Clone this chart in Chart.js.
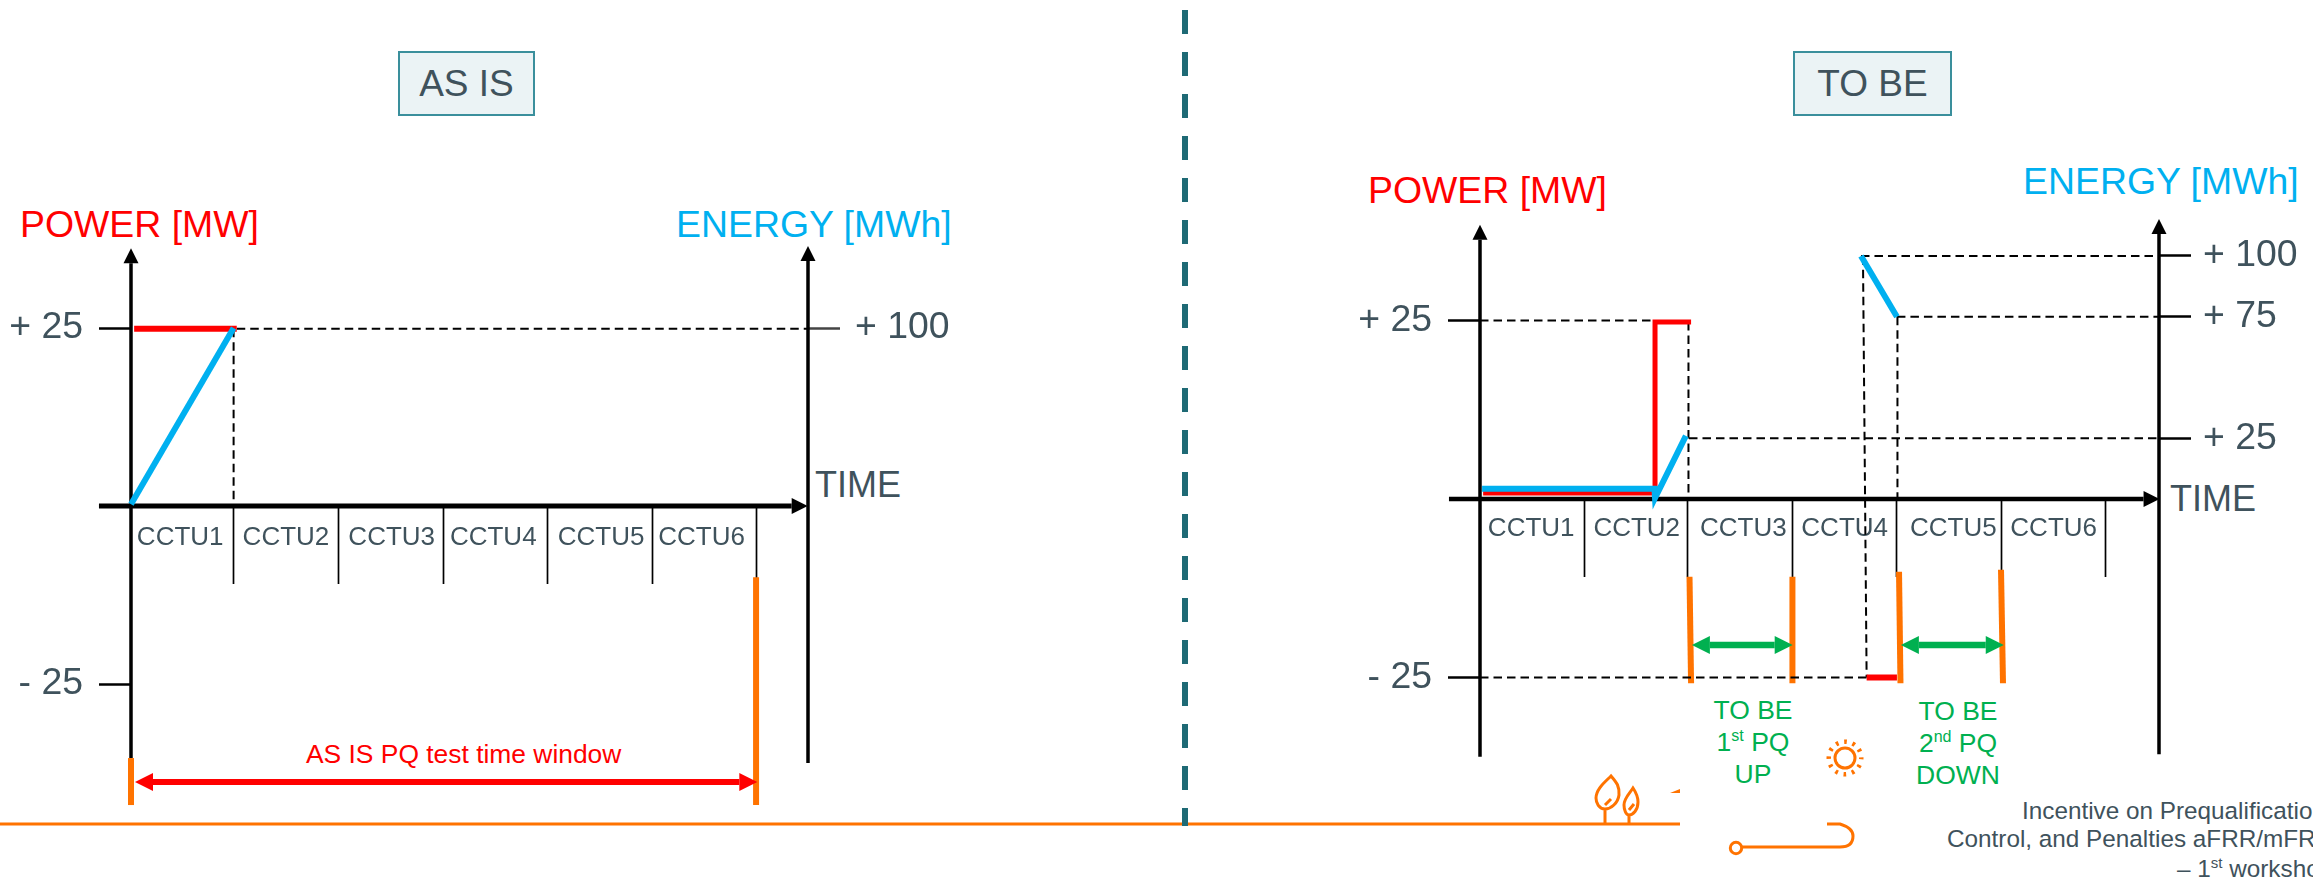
<!DOCTYPE html>
<html>
<head>
<meta charset="utf-8">
<title>AS IS / TO BE PQ test</title>
<script src="https://cdn.jsdelivr.net/npm/chart.js@4"></script>
<style>
    body { margin: 0; width: 2313px; height: 878px; overflow: hidden; position: relative; background: #fff; font-family: "Liberation Sans", Arial, sans-serif; color: #3f525c; }
    canvas { position: absolute; top: 0; }
    .lbl { position: absolute; white-space: nowrap; line-height: 1; font-size: 37.4px; transform: translateY(-50%); }
    .box { position: absolute; top: 51px; height: 61px; line-height: 61px; text-align: center; font-size: 37px; background: #ebf3f5; border: 2px solid #3a8f9c; }
    .red { color: #ff0000; }
    .blue { color: #00b0f0; }
    .pq { position: absolute; top: 694px; font-size: 26.5px; line-height: 32px; text-align: center; color: #00b050; transform: translateX(-50%); white-space: nowrap; }
    .pq sup { font-size: 16px; line-height: 0; }
    .foot { position: absolute; font-size: 24.3px; white-space: nowrap; line-height: 1; transform: translateY(-50%); }
    .foot sup { font-size: 15px; line-height: 0; }
    svg { position: absolute; left: 0; top: 0; }
</style>
</head>
<body>
<svg width="2313" height="878" fill="none" stroke="#ff7300" stroke-width="3">
    <line x1="0" y1="824" x2="1680" y2="824"/>
    <line x1="1185" y1="10" x2="1185" y2="826" stroke="#1e6a75" stroke-width="6" stroke-dasharray="24 18"/>
    <path d="M1605 824V809M1605 805l6-6M1611 776C1617 783 1619.5 786 1619 795C1618 803 1611 809 1605 809C1599 809 1596 803 1596 798C1596 789 1605 782 1611 776Z"/>
    <path d="M1629 824V815M1629 810l5-6M1633 788C1637 794 1638 798 1638 802C1638 810 1633 815 1629 815C1626 815 1624 810 1624 805C1624 798 1630 793 1633 788Z"/>
    <path d="M1670 793L1680 789V793Z" fill="#ff7300" stroke="none"/>
    <path d="M1827 824H1840Q1853 828 1853 836Q1853 847 1840 847H1742"/>
    <circle cx="1736" cy="848" r="5.7"/>
    <circle cx="1845" cy="758" r="10"/>
    <circle cx="1845" cy="758" r="16.25" stroke-width="4.5" stroke-dasharray="2.7 5.81" stroke-dashoffset="1.35"/>
</svg>

<div class="box" style="left:398px;width:133px">AS IS</div>
<div class="box" style="left:1793px;width:155px">TO BE</div>

<div class="lbl red" style="left:20px;top:225px">POWER [MW]</div>
<div class="lbl blue" style="left:676px;top:225px">ENERGY [MWh]</div>
<div class="lbl" style="left:815px;top:485px;font-size:36px">TIME</div>
<div class="lbl red" style="left:306px;top:754px;font-size:26.4px">AS IS PQ test time window</div>

<div class="lbl red" style="left:1368px;top:191px">POWER [MW]</div>
<div class="lbl blue" style="left:2023px;top:182px">ENERGY [MWh]</div>
<div class="lbl" style="left:2170px;top:499px;font-size:36px">TIME</div>
<div class="pq" style="left:1753px">TO BE<br>1<sup>st</sup> PQ<br>UP</div>
<div class="pq" style="left:1958px;top:695px">TO BE<br>2<sup>nd</sup> PQ<br>DOWN</div>
<div class="foot" style="left:2022px;top:811px">Incentive on Prequalification</div>
<div class="foot" style="left:1947px;top:839px">Control, and Penalties aFRR/mFRR</div>
<div class="foot" style="left:2177px;top:869px">– 1<sup>st</sup> workshop</div>

<canvas id="asIsChart" width="1184" height="878" style="left:0"></canvas>
<canvas id="toBeChart" width="1123" height="878" style="left:1190px"></canvas>

<script>
const RED = '#ff0000';
const BLUE = '#00b0f0';
const ORANGE = '#ff7300';
const GREEN = '#00b050';

const cctuLabels = ['CCTU1', 'CCTU2', 'CCTU3', 'CCTU4', 'CCTU5', 'CCTU6'];

// AS IS (time in CCTU periods, power in MW, energy in MWh)
const asIsEdges = [0.98, 1.98, 2.98, 3.98, 4.98, 5.97];
const asIsLabelCenters = [0.47, 1.48, 2.49, 3.46, 4.49, 5.45];
const asIsPowerTicks = [-25, 25];
const asIsEnergyTicks = [100];
const asIsPowerTime = [0.03, 1.01];
const asIsPowerValues = [24.9, 24.9];
const asIsEnergyTime = [0, 0.98];
const asIsEnergyValues = [1, 100];

// TO BE
const toBeEdges = [1, 1.99, 2.99, 3.99, 4.99, 5.99];
const toBeLabelCenters = [0.49, 1.5, 2.52, 3.49, 4.53, 5.49];
const toBePowerTicks = [-25, 25];
const toBeEnergyTicks = [25, 75, 100];
const toBePowerTime = [0.03, 1.675, 1.675, 2.02];
const toBePowerValues = [0.85, 0.85, 24.8, 24.8];
const toBePowerDownTime = [3.7, 3.99];
const toBePowerDownValues = [-25, -25];
const toBeEnergyTime = [0.02, 1.67, 1.675, 1.97];
const toBeEnergyValues = [4.2, 4.2, 0.4, 26];
const toBeEnergyDownTime = [3.646, 3.99];
const toBeEnergyDownValues = [100, 75];

function pts(xs, ys) {
    return xs.map((x, i) => ({ x: x, y: ys[i] }));
}

function line(data, color, width, extra) {
    return Object.assign({ data: data, borderColor: color, borderWidth: width, pointRadius: 0, clip: false, yAxisID: 'y', borderJoinStyle: 'miter' }, extra);
}

function dashed(data, extra) {
    return line(data, '#000', 2, Object.assign({ borderDash: [8.5, 5] }, extra));
}

// Arrow heads start at the end of the line and grow past it, so the thick line never pokes through the tip
const arrowHeads = {
    id: 'arrowHeads',
    afterDatasetsDraw(chart) {
        const ctx = chart.ctx;
        chart.data.datasets.forEach((ds, i) => {
            if (!ds.arrow) return;
            const els = chart.getDatasetMeta(i).data;
            const head = (from, to) => {
                const a = Math.atan2(to.y - from.y, to.x - from.x);
                ctx.save();
                ctx.translate(to.x, to.y);
                ctx.rotate(a);
                ctx.fillStyle = ds.borderColor;
                ctx.beginPath();
                ctx.moveTo(ds.arrow.len, 0);
                ctx.lineTo(0, -ds.arrow.half);
                ctx.lineTo(0, ds.arrow.half);
                ctx.closePath();
                ctx.fill();
                ctx.restore();
            };
            head(els[els.length - 2], els[els.length - 1]);
            if (ds.arrow.both) head(els[1], els[0]);
        });
    }
};

function buildChart(id, cfg) {
    const fixedTicks = values => scale => { scale.ticks = values.map(v => ({ value: v })); };
    const signed = v => (v > 0 ? '+ ' : '- ') + Math.abs(v);
    new Chart(document.getElementById(id).getContext('2d'), {
        type: 'line',
        data: { datasets: cfg.datasets },
        plugins: [arrowHeads],
        options: {
            responsive: false,
            animation: false,
            events: [],
            layout: { padding: { top: cfg.top, bottom: cfg.bottom, left: 0, right: 0 } },
            plugins: { legend: { display: false }, tooltip: { enabled: false } },
            scales: {
                x: {
                    type: 'linear', position: { y: 0 }, min: 0, max: cfg.timeMax,
                    afterBuildTicks: fixedTicks(cfg.edges),
                    border: { display: false },
                    grid: { drawOnChartArea: false, tickLength: 78, tickColor: '#000', tickWidth: 1.7 },
                    ticks: { display: false }
                },
                xl: {
                    axis: 'x', type: 'linear', position: { y: 0 }, min: 0, max: cfg.timeMax,
                    afterBuildTicks: fixedTicks(cfg.labelCenters),
                    border: { display: false },
                    grid: { display: false, drawTicks: false },
                    ticks: { autoSkip: false, maxRotation: 0, minRotation: 0, padding: cfg.labelPad, color: '#3f525c', font: { family: '"Liberation Sans"', size: 26 }, callback: (v, i) => cctuLabels[i] }
                },
                y: {
                    type: 'linear', position: 'left', min: cfg.powerMin, max: cfg.powerMax,
                    afterBuildTicks: fixedTicks(cfg.powerTicks),
                    afterFit: s => { s.width = cfg.leftWidth; },
                    border: { display: false },
                    grid: { drawOnChartArea: false, tickLength: 32, tickColor: '#000', tickWidth: 2.5 },
                    ticks: { padding: 16, color: '#3f525c', font: { family: '"Liberation Sans"', size: 37.4 }, callback: signed }
                },
                y1: {
                    type: 'linear', position: 'right', min: cfg.energyMin, max: cfg.energyMax,
                    afterBuildTicks: fixedTicks(cfg.energyTicks),
                    afterFit: s => { s.width = cfg.rightWidth; },
                    border: { display: false },
                    grid: { drawOnChartArea: false, tickLength: 32, tickColor: cfg.energyTickColor, tickWidth: 2.5 },
                    ticks: { padding: cfg.energyPad, color: '#3f525c', font: { family: '"Liberation Sans"', size: 37.4 }, callback: signed }
                }
            }
        }
    });
}

const yArrow = { len: 15, half: 7.5 };
const xArrow = { len: 16, half: 8 };
const redArrow = { len: 18, half: 9, both: true };
const greenArrow = { len: 18, half: 9, both: true };

buildChart('asIsChart', {
    top: 239, bottom: 69.4, leftWidth: 131, rightWidth: 376, labelPad: 16, energyPad: 15,
    timeMax: 6.466, powerMin: -42.5, powerMax: 37.5, energyMin: -170, energyMax: 150,
    edges: asIsEdges, labelCenters: asIsLabelCenters, powerTicks: asIsPowerTicks, energyTicks: asIsEnergyTicks, energyTickColor: '#444',
    datasets: [
        line(pts(asIsEnergyTime, asIsEnergyValues), BLUE, 6, { yAxisID: 'y1' }),
        line(pts(asIsPowerTime, asIsPowerValues), RED, 6),
        line(pts([0, 0], [-35.4, 34.1]), '#000', 3.5, { arrow: yArrow }),
        line(pts([6.466, 6.466], [-144.4, 137.6]), '#000', 3.5, { arrow: yArrow, yAxisID: 'y1' }),
        line(pts([-0.306, 6.31], [0, 0]), '#000', 5, { arrow: xArrow }),
        dashed(pts([1.01, 6.466], [24.9, 24.9])),
        dashed(pts([0.98, 0.98], [24.9, 0])),
        line(pts([0, 0], [-42, -35.4]), ORANGE, 6),
        line(pts([5.97, 5.97], [-42, -10]), ORANGE, 6),
        line(pts([0.21, 5.81], [-38.76, -38.76]), RED, 6, { arrow: redArrow })
    ]
});

buildChart('toBeChart', {
    top: 213.4, bottom: 93.4, leftWidth: 290, rightWidth: 154, labelPad: 14, energyPad: 12,
    timeMax: 6.498, powerMin: -40, powerMax: 40, energyMin: -117.5, energyMax: 117.5,
    edges: toBeEdges, labelCenters: toBeLabelCenters, powerTicks: toBePowerTicks, energyTicks: toBeEnergyTicks, energyTickColor: '#000',
    datasets: [
        line(pts(toBeEnergyTime, toBeEnergyValues), BLUE, 6, { yAxisID: 'y1' }),
        line(pts(toBeEnergyDownTime, toBeEnergyDownValues), BLUE, 6, { yAxisID: 'y1' }),
        line(pts(toBePowerDownTime, toBePowerDownValues), RED, 6),
        line(pts(toBePowerTime, toBePowerValues), RED, 5),
        line(pts([0, 0], [-36.1, 36.3]), '#000', 3.5, { arrow: yArrow }),
        line(pts([6.498, 6.498], [-105, 109]), '#000', 3.5, { arrow: yArrow, yAxisID: 'y1' }),
        line(pts([-0.297, 6.35], [0, 0]), '#000', 4.5, { arrow: xArrow }),
        dashed(pts([0, 1.66], [25, 25])),
        dashed(pts([0, 3.7], [-25, -25])),
        dashed(pts([2, 6.498], [25, 25]), { yAxisID: 'y1' }),
        dashed(pts([3.646, 6.498], [100, 100]), { yAxisID: 'y1' }),
        dashed(pts([3.99, 6.498], [75, 75]), { yAxisID: 'y1' }),
        dashed(pts([1.995, 1.995], [24.8, 0])),
        dashed(pts([3.665, 3.7], [34, -25])),
        dashed(pts([3.995, 3.995], [75, 0]), { yAxisID: 'y1' }),
        line(pts([2.005, 2.02], [-10.9, -25.8]), ORANGE, 6),
        line(pts([2.99, 2.99], [-10.9, -25.8]), ORANGE, 6),
        line(pts([4.01, 4.024], [-10.2, -25.8]), ORANGE, 6),
        line(pts([4.986, 5.005], [-9.9, -25.8]), ORANGE, 6),
        line(pts([2.2, 2.82], [-20.45, -20.45]), GREEN, 6.5, { arrow: greenArrow }),
        line(pts([4.2, 4.84], [-20.45, -20.45]), GREEN, 6.5, { arrow: greenArrow })
    ]
});
</script>
</body>
</html>
